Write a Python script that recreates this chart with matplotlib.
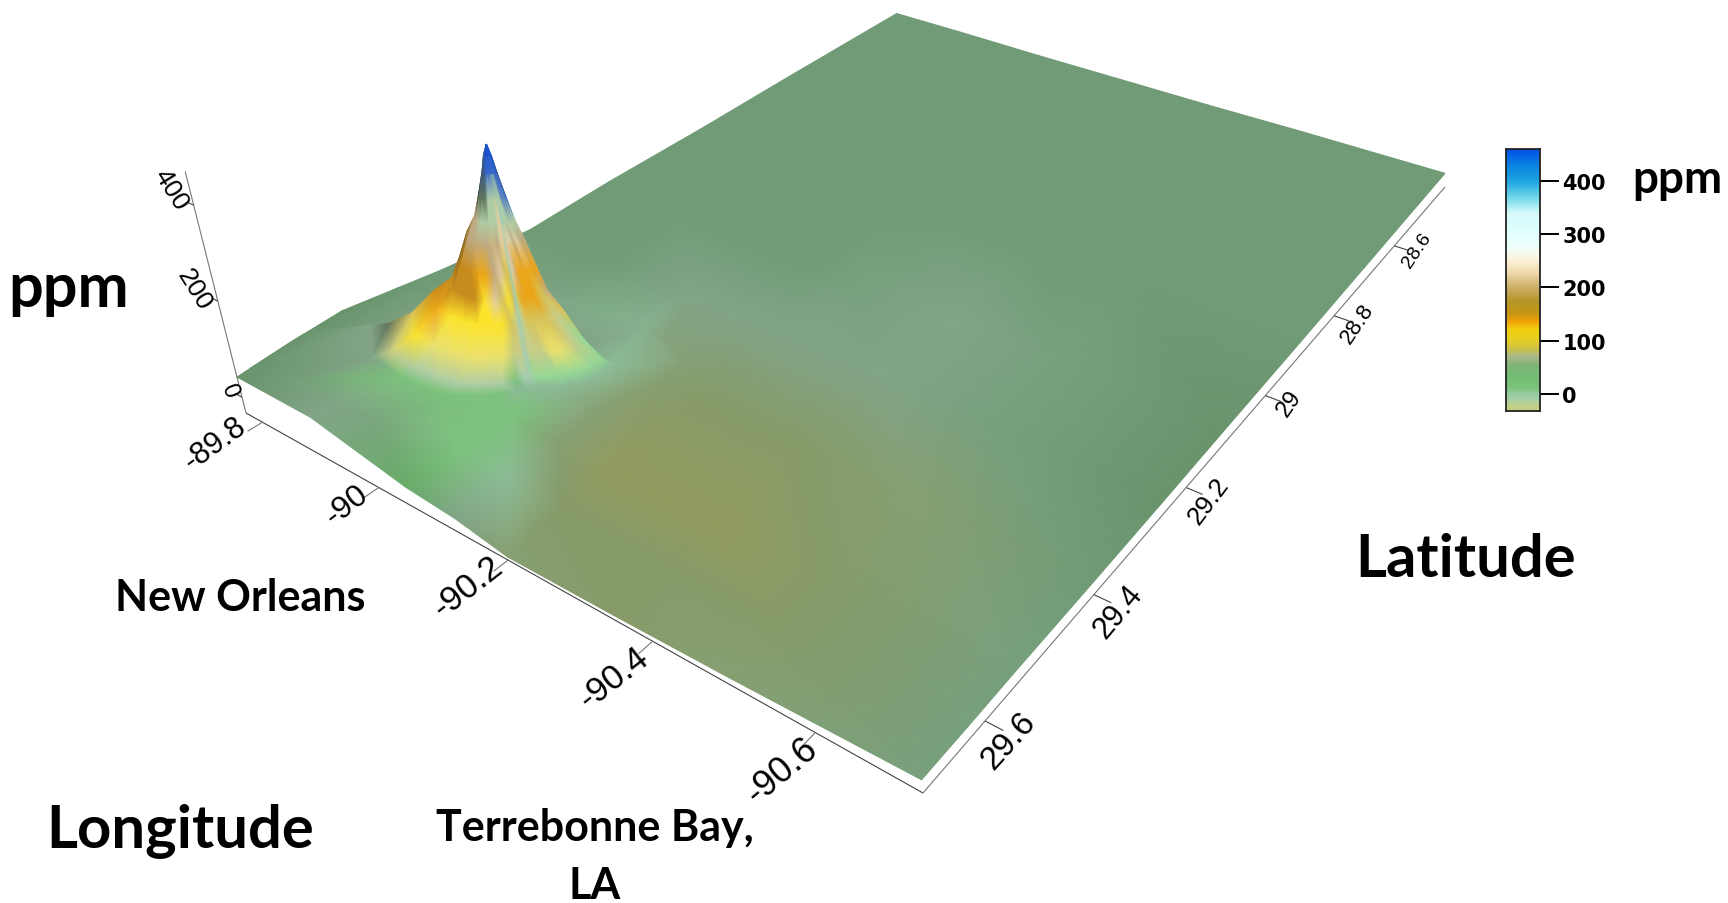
import numpy as np, matplotlib
matplotlib.use('Agg')
import matplotlib.pyplot as plt
from matplotlib.colors import ListedColormap, LinearSegmentedColormap
from matplotlib.tri import Triangulation, LinearTriInterpolator

# ---------- surface data ----------
LON = [-89.77, -89.9, -90.05, -90.125, -90.2, -90.35, -90.5, -90.72]
LAT = [29.7, 29.625, 29.55, 29.4, 29.25, 29.1, 28.9, 28.7, 28.41]
Z_PPM = [[42, 50, 54, 22, -2, 2, 0, 2, 2],
         [41, 32, 20, 10, 5, 3, 2, 2, 2],
         [1, 1, 0, 0, 0, 0, 0, 0, 0],
         [-8, -4, -2, 0, 0, 0, 0, 0, 0],
         [-27, -15, -5, 0, 0, 0, 0, 0, 0],
         [-25, -15, -10, -3, 0, 0, 0, 0, 0],
         [-21, -16, -12, -8, -5, -3, -2, 0, 2],
         [-12, -12, -11, -11, -10, -8, -6, -3, 2]]
SHADE = ["bbbaaaaaa", "ccfcaaaaa", "hffxcaaaa", "cxddcaaaa", "dqeqcpaaa", "qqeqccaaa", "dqqdppaaa", "pppabbaaa"]

# peak: rings and rays around it
PEAK_LON, PEAK_LAT = -89.9985, 29.4715
RING_FRAC = [0, .03, .06, .11, .16, .23, .31, .39, .53, .70, .88, 1.0, 1.9]
RING_PPM = [474, 450, 412, 360, 312, 272, 212, 160, 120, 60, 15, 0, 0]
RAY_DEG = [0, 15, 30, 42, 54, 66, 78, 88, 96, 108, 120, 132, 144, 156, 168, 180, 200, 225, 250, 270, 300, 330]
RAY_LEN = [82, 70, 58, 50, 44, 40, 38, 38, 38, 44, 56, 70, 90, 105, 125, 150, 165, 130, 100, 80, 65, 72]
RAY_SHADE = ["BBvSwuoulggx", "BBSswuoljjgx", "BBSswroolYgx", "BBSswuoolYgx", "BBSwwrooljgx",
             "BBSwirtoljgx", "BBSwirrljjgx", "BBSiiiiiiiix", "BBSwrrlljjix", "BBSwrrlyljfx",
             "BBSwwurlyYwf", "BBSwwturyYwf", "BBSwwuoyyYwf", "BBSmwuoOyYwf", "BBvmwuOOyYwf",
             "BvvmuuOOoyjc", "BvvkunnOOlmc", "BvkkknnOOnmc", "Bvkkkkkkkkmc", "Bvkkkkkkkkmc",
             "Bvmmmmmkkkmc", "Bvmwuonnmkmc"]

PALETTE = {'a': (112,155,118), 'b': (105,148,108), 'c': (130,165,135), 'd': (135,160,115), 'e': (147,156,96),
           'q': (135,155,105), 'p': (120,160,125), 'h': (105,172,105), 'f': (125,195,125), 'g': (150,215,150),
           'i': (165,205,178), 'x': (140,188,150), 'k': (55,60,50), 'm': (95,115,90), 'n': (140,105,35),
           'y': (252,228,45), 'Y': (235,225,110), 'o': (235,165,25), 'O': (200,140,30), 't': (205,180,125),
           'r': (225,205,160), 'w': (175,205,165), 's': (95,135,190), 'S': (55,105,200), 'v': (60,90,130),
           'B': (25,80,205), 'u': (190,170,130), 'l': (215,195,90), 'j': (200,205,135)}

# colour bar
CB_VALUES = [-32, -22, -10, 0, 10, 30, 55, 70, 85, 100, 120, 135, 150, 175, 200, 230, 250, 275, 300, 340, 370, 400, 430, 460]
CB_COLOURS = [(200,205,130), (190,210,140), (165,205,165), (150,205,160), (125,195,125), (115,190,115), (130,180,120),
              (170,185,140), (205,195,70), (230,205,40), (240,210,15), (240,165,5), (200,150,20), (180,150,40),
              (205,175,105), (240,220,175), (252,240,215), (240,255,250), (225,255,255), (215,250,250),
              (110,215,235), (30,165,225), (10,130,225), (0,80,235)]
CB_TICKS = [0, 100, 200, 300, 400]

LON_TICKS = [-89.8, -90, -90.2, -90.4, -90.6]
LON_LABELS = ['-89.8', '-90', '-90.2', '-90.4', '-90.6']
LAT_TICKS = [28.6, 28.8, 29, 29.2, 29.4, 29.6]
LAT_LABELS = ['28.6', '28.8', '29', '29.2', '29.4', '29.6']
Z_TICKS = [0, 200, 400]
Z_LABELS = ['0', '200', '400']

# ---------- view ----------
Z_BASE = -33.0
src = np.array([[LON[0], LAT[0]], [LON[-1], LAT[0]], [LON[-1], LAT[-1]], [LON[0], LAT[-1]]])
dst = np.array([[246, 414], [923, 794], [1445, 188], [898, 26.]])
A, b = [], []
for (x, y), (u, v) in zip(src, dst):
    A.append([x, y, 1, 0, 0, 0, -u*x, -u*y]); b.append(u)
    A.append([0, 0, 0, x, y, 1, -v*x, -v*y]); b.append(v)
H = np.append(np.linalg.solve(np.array(A), np.array(b)), 1).reshape(3, 3)
W0 = H[2, 0]*LON[0] + H[2, 1]*LAT[0] + 1

def project(lon, lat, z):
    lon, lat, z = np.asarray(lon, float), np.asarray(lat, float), np.asarray(z, float)
    w = H[2, 0]*lon + H[2, 1]*lat + 1
    x = (H[0, 0]*lon + H[0, 1]*lat + H[0, 2])/w
    y = (H[1, 0]*lon + H[1, 1]*lat + H[1, 2])/w
    h = 0.48*W0/w*(z - Z_BASE)
    return x - h*(1445 - x)*0.00021, y - h, y

fig = plt.figure(figsize=(17.28, 9.04), dpi=100, facecolor='white')
ax = fig.add_axes([0, 0, 1, 1])

def draw_surface(lon, lat, z, rgb, tris):
    """Gouraud-shaded mesh painted back to front; vertex colours come from a table."""
    sx, sy, gy = project(lon, lat, z)
    tris = np.array(tris)
    tris = tris[np.argsort(gy[tris].mean(axis=1), kind='stable')]
    cm = ListedColormap(rgb)
    ax.tripcolor(Triangulation(sx, sy, tris), np.arange(len(rgb), dtype=float), shading='gouraud',
                 cmap=cm, vmin=0, vmax=cm.N - 1)

def quads(n, m, wrap=False):
    tr = []
    for i in range(n if wrap else n - 1):
        i2 = (i + 1) % n
        for j in range(m - 1):
            a0, a1, a2, a3 = i*m + j, i*m + j + 1, i2*m + j, i2*m + j + 1
            tr += [[a0, a1, a2], [a1, a3, a2]]
    return tr

# ground mesh
LG, AG = np.meshgrid(LON, LAT, indexing='ij')
ZG = np.array(Z_PPM, float)
RGB_G = np.array([[PALETTE[ch] for ch in row] for row in SHADE], float)/255
n, m = LG.shape
ground_tris = quads(n, m)
draw_surface(LG.ravel(), AG.ravel(), ZG.ravel(), RGB_G.reshape(-1, 3), ground_tris)

# what the ground holds under any point, so the peak mesh merges into it at its rim
gt = Triangulation(LG.ravel(), AG.ravel(), np.array(ground_tris))
def under(values, lon, lat):
    return np.asarray(LinearTriInterpolator(gt, values.ravel())(lon, lat).filled(0.0))

# peak mesh: screen-right and screen-down steps on the ground, per 111 px
phi = np.radians(RAY_DEG); L = np.array(RAY_LEN, float); F = np.array(RING_FRAC)
R = np.outer(L, F)/111.0
PL = PEAK_LON + R*(np.cos(phi)[:, None]*(-0.1022) + np.sin(phi)[:, None]*(-0.0885))
PA = PEAK_LAT + R*(np.cos(phi)[:, None]*(-0.0818) + np.sin(phi)[:, None]*(0.0842))
PL = np.clip(PL, LON[-1], LON[0]); PA = np.clip(PA, LAT[-1], LAT[0])
ZP = np.tile(RING_PPM, (len(phi), 1)).astype(float) + under(ZG, PL, PA)
RGB_P = np.zeros(PL.shape + (3,))
RGB_P[:, :-1] = np.array([[PALETTE[ch] for ch in row] for row in RAY_SHADE], float)/255
for k in range(3):
    RGB_P[:, -1, k] = under(RGB_G[:, :, k], PL[:, -1], PA[:, -1])
n, m = PL.shape
draw_surface(PL.ravel(), PA.ravel(), ZP.ravel(), RGB_P.reshape(-1, 3), quads(n, m, wrap=True))

# frame
LO0, LO1, LA0, LA1 = LON[0], LON[-1], LAT[0], LAT[-1]
def bp(lon, lat, z=Z_BASE):
    x, y, _ = project(lon, lat, z)
    return float(x), float(y)
axc = '#444444'
def seg(p, q, lw=0.8, c=axc):
    ax.plot([p[0], q[0]], [p[1], q[1]], color=c, lw=lw, solid_capstyle='butt')
seg(bp(LO0, LA0), bp(LO1, LA0))
seg(bp(LO1, LA0), bp(LO1, LA1), c='#777777')
seg(bp(LO0, LA0), bp(LO0, LA0, 470), c='#777777')
for t in LON_TICKS:
    seg(bp(t, LA0), bp(t, LA0 + 0.02), c='#777777')
for t in LAT_TICKS:
    seg(bp(LO1, t), bp(LO1 - 0.02, t))
for t in Z_TICKS:
    seg(bp(LO0, LA0, t), bp(LO0 + 0.012, LA0, t))

tf = ['Liberation Sans', 'DejaVu Sans']
for lab, xy, s, r in zip(LON_LABELS, [(215,444), (347,505), (468,587), (614,678), (782,771)], [22,23,25,25,26], [36,38,38,38,40]):
    ax.text(*xy, lab, family=tf, fontsize=s, rotation=r, ha='center', va='center', color='black')
for lab, xy, s, r in zip(LAT_LABELS, [(1417,251), (1357,324), (1289,404), (1209,501), (1118,612), (1009,741)], [14,16,17,19,22,24], [56,56,55,53,50,48]):
    ax.text(*xy, lab, family=tf, fontsize=s, rotation=r, ha='center', va='center', color='black')
for lab, xy, s, r in zip(Z_LABELS, [(229,391), (194,290), (171,190)], [17,19,19], [-68,-58,-58]):
    ax.text(*xy, lab, family=tf, fontsize=s, rotation=r, ha='center', va='center', color='black')

big = ['Lato', 'DejaVu Sans']
for txt, xy, s in [('ppm', (69,289), 44), ('Latitude', (1466,560), 43), ('Longitude', (180,832), 43),
                   ('New Orleans', (240,598), 31), ('Terrebonne Bay,', (595,828), 31), ('LA', (595,886), 31),
                   ('ppm', (1677,180), 33)]:
    ax.text(*xy, txt, family=big, fontweight='bold', fontsize=s, ha='center', va='center', color='black')

ax.set_xlim(0, 1728); ax.set_ylim(904, 0); ax.axis('off')

# colour bar
cax = fig.add_axes([1506/1728, 1 - 412/904, 34/1728, 262/904])
pos = [(v - CB_VALUES[0])/(CB_VALUES[-1] - CB_VALUES[0]) for v in CB_VALUES]
cb_cmap = LinearSegmentedColormap.from_list('cb', list(zip(pos, [tuple(c/255 for c in k) for k in CB_COLOURS])), N=512)
grad = np.linspace(CB_VALUES[0], CB_VALUES[-1], 512)[:, None]
cax.imshow(grad, aspect='auto', origin='lower', cmap=cb_cmap, extent=[0, 1, CB_VALUES[0], CB_VALUES[-1]])
cax.set_xticks([]); cax.yaxis.tick_right(); cax.set_yticks(CB_TICKS)
cax.set_yticklabels([str(t) for t in CB_TICKS], family='DejaVu Sans', fontweight='bold', fontsize=15)
cax.tick_params(axis='y', length=14, width=1.4, pad=2)
for sp in cax.spines.values():
    sp.set_linewidth(1.3); sp.set_color('#222222')
fig.savefig('out.png', dpi=100)
